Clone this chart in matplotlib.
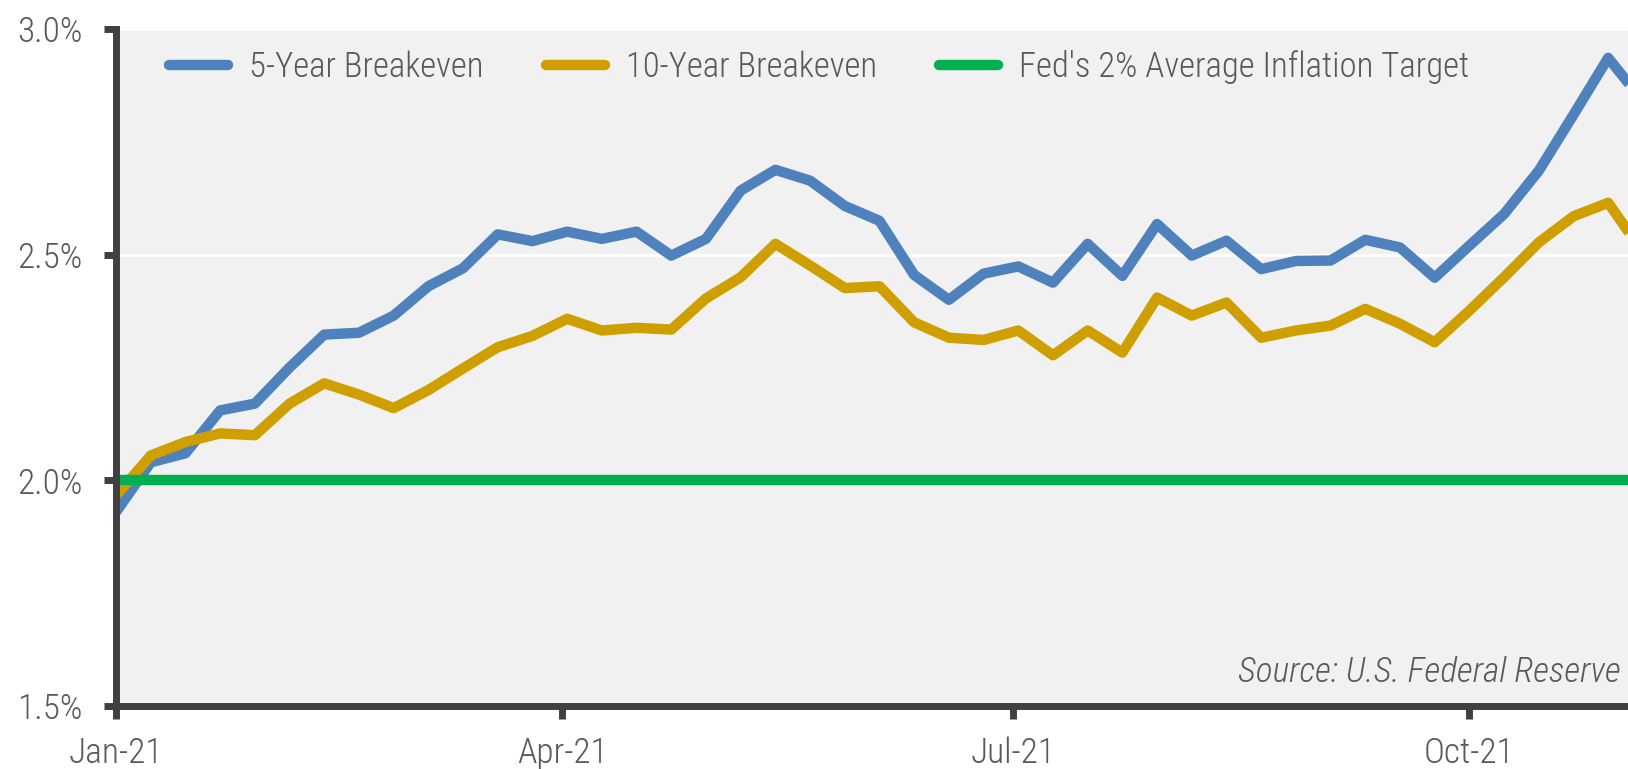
import matplotlib
matplotlib.use("Agg")
import matplotlib.pyplot as plt
import matplotlib.dates as mdates
from matplotlib import font_manager
from matplotlib.ticker import FuncFormatter
import pandas as pd

# ---------------------------------------------------------------------------
# Dati (settimanali)
# ---------------------------------------------------------------------------
dates = pd.date_range("2021-01-01", periods=45, freq="7D")

be_5y = [1.93, 2.04, 2.06, 2.155, 2.17, 2.25, 2.323, 2.327, 2.365, 2.43,
         2.47, 2.545, 2.53, 2.551, 2.535, 2.551, 2.498, 2.535, 2.642, 2.688,
         2.664, 2.608, 2.575, 2.455, 2.40, 2.458, 2.474, 2.438, 2.524, 2.453,
         2.568, 2.498, 2.531, 2.468, 2.486, 2.487, 2.533, 2.516, 2.449, 2.52,
         2.59, 2.686, 2.81, 2.936, 2.84]

be_10y = [1.967, 2.055, 2.085, 2.104, 2.10, 2.17, 2.215, 2.19, 2.16, 2.20,
          2.248, 2.295, 2.32, 2.358, 2.332, 2.338, 2.334, 2.403, 2.45, 2.524,
          2.476, 2.426, 2.43, 2.35, 2.316, 2.311, 2.332, 2.277, 2.332, 2.283,
          2.405, 2.365, 2.394, 2.316, 2.332, 2.343, 2.38, 2.347, 2.306, 2.376,
          2.45, 2.527, 2.585, 2.615, 2.505]

fed_target = [2.0] * len(dates)

series_labels = ["5-Year Breakeven", "10-Year Breakeven",
                 "Fed's 2% Average Inflation Target"]
series_colors = ["#4f81bd", "#cf9f00", "#00b050"]

x_ticks = pd.to_datetime(["2021-01-01", "2021-04-01", "2021-07-01", "2021-10-01"])
y_ticks = [1.5, 2.0, 2.5, 3.0]

# ---------------------------------------------------------------------------
# Stile
# ---------------------------------------------------------------------------
installed = {f.name for f in font_manager.fontManager.ttflist}
FONT = [f for f in ["Roboto Condensed", "DejaVu Sans Condensed",
                    "Liberation Sans Narrow", "Roboto"] if f in installed]
plt.rcParams["font.family"] = FONT + ["DejaVu Sans"]
plt.rcParams["font.weight"] = "light"
TXT = "#595959"
SPINE = "#404040"

fig = plt.figure(figsize=(16.28, 7.69), dpi=100)
ax = fig.add_axes([0.0713, 0.0819, 1.0 - 0.0713, 0.9623 - 0.0819])
ax.set_facecolor("#f1f1f1")

for vals, lab, col in zip([be_5y, be_10y, fed_target], series_labels, series_colors):
    ax.plot(dates, vals, color=col, lw=7.5, label=lab,
            solid_capstyle="butt", solid_joinstyle="round")

ax.set_xlim(pd.Timestamp("2021-01-01"), pd.Timestamp("2021-11-02"))
ax.set_ylim(1.5, 3.0)
ax.set_xticks(x_ticks)
ax.xaxis.set_major_formatter(mdates.DateFormatter("%b-%y"))
ax.set_yticks(y_ticks)
ax.yaxis.set_major_formatter(FuncFormatter(lambda v, p: f"{v:.1f}%"))

ax.grid(axis="y", color="white", lw=2)
ax.set_axisbelow(True)

for s in ["top", "right"]:
    ax.spines[s].set_visible(False)
for s in ["left", "bottom"]:
    ax.spines[s].set_color(SPINE)
    ax.spines[s].set_linewidth(5)

ax.tick_params(axis="y", direction="out", length=9, width=5, color=SPINE,
               labelsize=25.5, labelcolor=TXT, pad=15)
ax.tick_params(axis="x", direction="out", length=9, width=5, color=SPINE,
               labelsize=25.5, labelcolor=TXT, pad=13)

leg = ax.legend(loc="center left", bbox_to_anchor=(0.035, 0.944), ncol=3,
                frameon=False, fontsize=25, handlelength=1.7,
                handletextpad=0.6, columnspacing=1.8,
                borderaxespad=0, borderpad=0)
for h in leg.get_lines():
    h.set_solid_capstyle("round")
for t in leg.get_texts():
    t.set_color(TXT)

ax.text(0.995, 0.05, "Source: U.S. Federal Reserve", transform=ax.transAxes,
        ha="right", va="center", fontsize=25.5, style="italic", color=TXT)

fig.savefig("out.png", dpi=100)
